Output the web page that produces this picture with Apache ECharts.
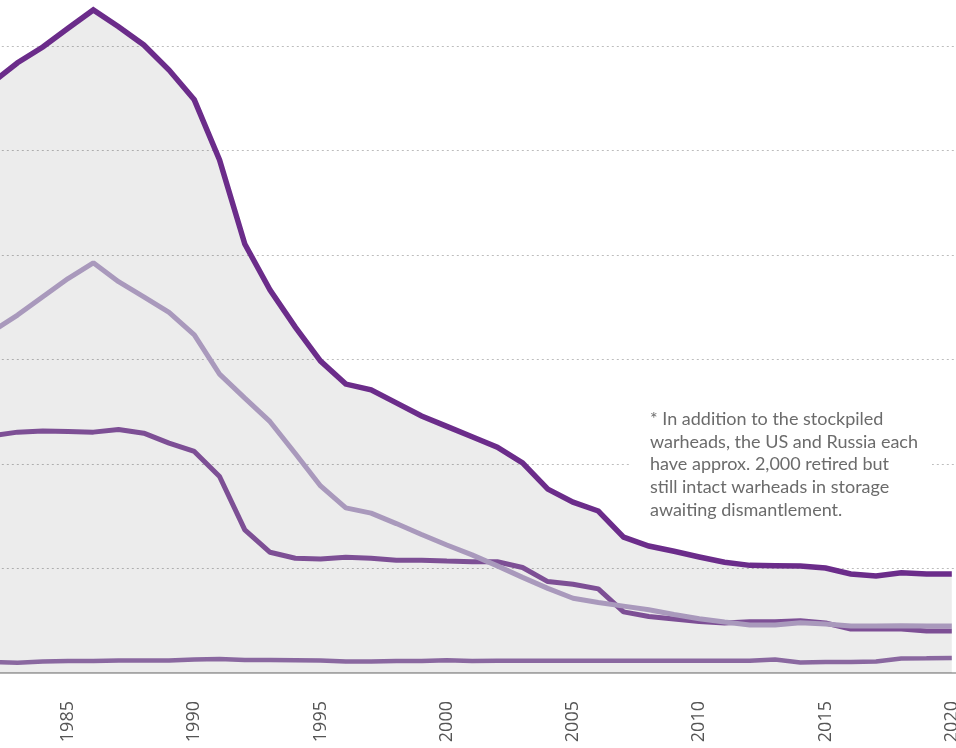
<!DOCTYPE html>
<html>
<head>
<meta charset="utf-8">
<script src="https://cdn.jsdelivr.net/npm/echarts@6/dist/echarts.min.js"></script>
<style>
  html, body { margin: 0; padding: 0; background: #fff; overflow: hidden; }
  /* chart is bigger than the window and shifted up/left, so the plot looks cropped */
  #chart { position: absolute; left: -59px; top: -59px; width: 1140px; height: 807px; }
</style>
</head>
<body>
<div id="chart"></div>
<script>
// years on the x axis
var years = [1982, 1983, 1984, 1985, 1986, 1987, 1988, 1989, 1990, 1991,
  1992, 1993, 1994, 1995, 1996, 1997, 1998, 1999, 2000, 2001,
  2002, 2003, 2004, 2005, 2006, 2007, 2008, 2009, 2010, 2011,
  2012, 2013, 2014, 2015, 2016, 2017, 2018, 2019, 2020];

// total stockpiled warheads (dark line + grey area)
var totalWarheads = [56500, 58400, 59900, 61700, 63450, 61850, 60100, 57700, 54850, 49100,
  41050, 36650, 33100, 29850, 27650, 27100, 25850, 24600, 23600, 22600,
  21600, 20100, 17600, 16350, 15500, 13000, 12150, 11650, 11100, 10600,
  10300, 10270, 10240, 10050, 9470, 9280, 9600, 9470, 9470];

// light line
var russia = [32700, 34250, 36000, 37750, 39250, 37450, 36000, 34500, 32350, 28600,
  26300, 24050, 21000, 17900, 15800, 15300, 14300, 13250, 12250, 11300,
  10250, 9150, 8100, 7150, 6750, 6400, 6050, 5600, 5200, 4880,
  4600, 4600, 4800, 4700, 4500, 4500, 4530, 4500, 4500];

// medium line
var us = [22700, 23050, 23150, 23100, 23050, 23300, 22950, 22000, 21200, 18800,
  13700, 11550, 10980, 10900, 11070, 10980, 10800, 10800, 10720, 10650,
  10650, 10100, 8750, 8500, 8050, 5850, 5400, 5170, 4930, 4780,
  4900, 4900, 5000, 4780, 4200, 4200, 4200, 4020, 4020];

// bottom line
var others = [1050, 990, 1100, 1150, 1150, 1200, 1200, 1200, 1290, 1340,
  1240, 1240, 1220, 1200, 1100, 1100, 1150, 1150, 1220, 1150,
  1170, 1170, 1170, 1170, 1170, 1170, 1170, 1170, 1170, 1170,
  1170, 1290, 1000, 1050, 1050, 1100, 1390, 1410, 1435];

var yearTicks = [1985, 1990, 1995, 2000, 2005, 2010, 2015, 2020];

var noteLines = [
  '* In addition to the stockpiled',
  'warheads, the US and Russia each',
  'have approx. 2,000 retired but',
  'still intact warheads in storage',
  'awaiting dismantlement.'
];

// offset of the chart div against the window (see css)
var SHIFT = 59;

function pairs(vals) {
  return years.map(function (y, i) { return [y, vals[i]]; });
}

var chart = echarts.init(document.getElementById('chart'), null, { renderer: 'canvas' });

var option = {
  animation: false,
  backgroundColor: '#fff',
  grid: { left: 0.8, right: 2.95, top: 0.5, bottom: 75 },
  xAxis: {
    type: 'value',
    min: 1980,
    max: 2025,
    interval: 5,
    axisLine: { show: true, lineStyle: { color: '#b3b3b3', width: 2 } },
    axisTick: { show: false },
    splitLine: { show: false },
    axisLabel: {
      rotate: 90,
      margin: 28,
      fontFamily: 'Open Sans',
      fontSize: 18,
      color: '#555',
      formatter: function (v) { return yearTicks.indexOf(v) >= 0 ? String(v) : ''; }
    }
  },
  yAxis: {
    type: 'value',
    min: 0,
    max: 70000,
    interval: 10000,
    axisLine: { show: false },
    axisTick: { show: false },
    axisLabel: { show: false },
    splitLine: { lineStyle: { color: '#bdbdbd', type: [2, 3], width: 1 } }
  },
  series: [
    {
      name: 'Total',
      type: 'line',
      data: pairs(totalWarheads),
      symbol: 'none',
      lineStyle: { color: '#6b2c8a', width: 5.5, join: 'miter' },
      // translucent so the dotted grid still shows through
      areaStyle: { color: 'rgba(0,0,0,0.075)', opacity: 1, origin: 'start' }
    },
    {
      name: 'Others',
      type: 'line',
      data: pairs(others),
      symbol: 'none',
      lineStyle: { color: '#8a68a0', width: 4.5 }
    },
    {
      name: 'US',
      type: 'line',
      data: pairs(us),
      symbol: 'none',
      lineStyle: { color: '#7d4f95', width: 5 }
    },
    {
      name: 'Russia',
      type: 'line',
      data: pairs(russia),
      symbol: 'none',
      lineStyle: { color: '#a999bc', width: 5 }
    }
  ],
  graphic: [
    {
      type: 'rect',
      left: 630 + SHIFT,
      top: 404 + SHIFT,
      shape: { width: 302, height: 118 },
      style: { fill: '#fff' },
      z: 50
    },
    {
      type: 'text',
      left: 650 + SHIFT,
      top: 408 + SHIFT,
      z: 51,
      style: {
        text: noteLines.join('\n'),
        font: '18px Lato',
        fill: '#6b6b6b',
        lineHeight: 22.6
      }
    }
  ]
};

chart.setOption(option);
</script>
</body>
</html>
